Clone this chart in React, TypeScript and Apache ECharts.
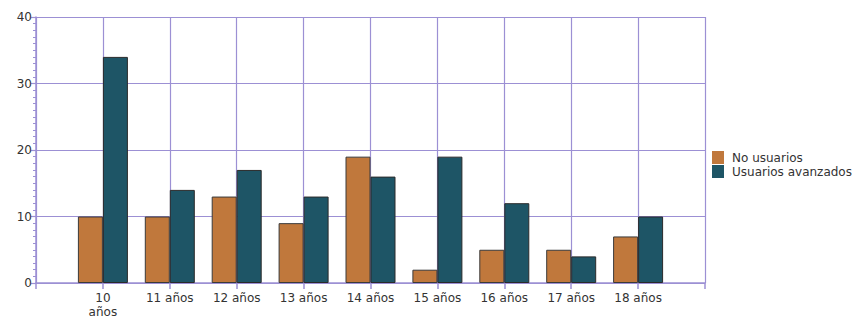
import React, { useEffect, useRef } from "react";
import * as echarts from "echarts";

const categories = ["", "10 años", "11 años", "12 años", "13 años", "14 años", "15 años", "16 años", "17 años", "18 años", ""];
const noUsuarios = [null, 10, 10, 13, 9, 19, 2, 5, 5, 7, null];
const usuariosAvanzados = [null, 34, 14, 17, 13, 16, 19, 12, 4, 10, null];
const seriesNames = ["No usuarios", "Usuarios avanzados"];

export default function App() {
  const ref = useRef<HTMLDivElement>(null);
  useEffect(() => {
    const chart = echarts.init(ref.current!, null, { renderer: "svg" });
    const lineColor = "#9c90d4";
    const font = "DejaVu Sans";
    chart.setOption({
      animation: false,
      textStyle: { fontFamily: font },
      grid: { left: 36, top: 17, right: 147, bottom: 39 },
      legend: {
        orient: "vertical",
        left: 712,
        top: 151,
        padding: 0,
        itemWidth: 12,
        itemHeight: 13,
        itemGap: 1,
        icon: "rect",
        itemStyle: { borderWidth: 0 },
        textStyle: { fontFamily: font, fontSize: 12, color: "#333", padding: [0, 0, 0, 3] },
        data: seriesNames,
      },
      xAxis: {
        type: "category",
        data: categories,
        boundaryGap: false,
        axisLine: { lineStyle: { color: lineColor, width: 1.5 } },
        axisTick: { show: true, length: 6, lineStyle: { color: lineColor, width: 1.5 }, interval: 0 },
        splitLine: { show: true, interval: 0, lineStyle: { color: lineColor, width: 1.2 } },
        axisLabel: {
          interval: 0,
          fontFamily: font,
          fontSize: 12,
          color: "#333",
          margin: 8,
          lineHeight: 14,
          formatter: (v: string) => (v === "10 años" ? "10\naños" : v),
        },
      },
      yAxis: {
        type: "value",
        min: 0,
        max: 40,
        interval: 10,
        axisLine: { show: true, lineStyle: { color: lineColor, width: 1.5 } },
        axisTick: { show: true, length: 5, lineStyle: { color: lineColor, width: 1.2 } },
        minorTick: { show: true, splitNumber: 10, length: 3, lineStyle: { color: lineColor } },
        splitLine: { show: true, lineStyle: { color: lineColor, width: 1.2 } },
        axisLabel: { fontFamily: font, fontSize: 12, color: "#333", margin: 4 },
      },
      series: [
        {
          name: seriesNames[0],
          type: "bar",
          data: noUsuarios,
          barWidth: 25,
          barGap: "0%",
          itemStyle: { color: "#c0783c", borderColor: "#3a3a3a", borderWidth: 1 },
        },
        {
          name: seriesNames[1],
          type: "bar",
          data: usuariosAvanzados,
          barWidth: 25,
          barGap: "0%",
          itemStyle: { color: "#1e5566", borderColor: "#2a2a2a", borderWidth: 1 },
        },
      ],
    });
    return () => chart.dispose();
  }, []);
  return <div ref={ref} style={{ width: 852, height: 322, position: "absolute", left: 0, top: 0 }} />;
}
